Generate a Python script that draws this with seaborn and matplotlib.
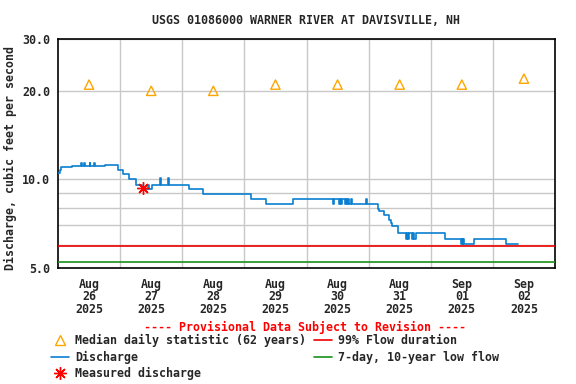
import matplotlib
matplotlib.use("Agg")
import matplotlib.pyplot as plt
import seaborn as sns
import pandas as pd
from matplotlib.lines import Line2D
from matplotlib.ticker import FixedLocator, NullFormatter, FixedFormatter

# ---------------- data ----------------
title = "USGS 01086000 WARNER RIVER AT DAVISVILLE, NH"
day_labels = ["Aug\n26\n2025", "Aug\n27\n2025", "Aug\n28\n2025", "Aug\n29\n2025",
              "Aug\n30\n2025", "Aug\n31\n2025", "Sep\n01\n2025", "Sep\n02\n2025"]
day_noon_hours = [12, 36, 60, 84, 108, 132, 156, 180]
day_start_hours = [24, 48, 72, 96, 120, 144, 168]

median_hours = [12, 36, 60, 84, 108, 132, 156, 180]
median_values = [21, 20, 20, 21, 21, 21, 21, 22]

# discharge breakpoints (hours since Aug 26 00:00), held as steps
q_hours = [0.0, 0.7, 1.3, 5.3, 9.0, 9.25, 10.0, 10.25, 12.25, 12.5, 14.0, 14.25,
           18.0, 23.2, 25.2, 27.4, 30.2, 32.3, 34.8, 35.05, 36.5, 39.5, 39.75,
           42.5, 42.75, 50.6, 56.1, 74.5, 80.3, 90.9, 106.4, 106.65, 108.6,
           108.85, 109.5, 109.75, 110.9, 111.4, 111.8, 112.05, 112.6, 113.1,
           113.5, 119.0, 119.25, 123.6, 124.2, 125.8, 127.8, 128.6, 129.1,
           131.4, 134.6, 135.0, 135.25, 135.6, 136.8, 137.25, 137.5, 138.3,
           149.4, 155.7, 156.0, 156.3, 156.5, 156.9, 160.6, 173.1, 177.8]
q_values = [10.5, 10.8, 11.0, 11.1, 11.4, 11.1, 11.4, 11.1, 11.4, 11.1, 11.4, 11.1,
            11.2, 10.8, 10.4, 10.0, 9.6, 9.3, 9.6, 9.3, 9.6, 10.1, 9.6,
            10.1, 9.6, 9.3, 8.9, 8.55, 8.24, 8.55, 8.24, 8.55, 8.24,
            8.55, 8.24, 8.55, 8.24, 8.55, 8.24, 8.55, 8.24, 8.55,
            8.24, 8.55, 8.24, 7.96, 7.81, 7.56, 7.26, 7.11, 6.95,
            6.59, 6.29, 6.59, 6.29, 6.59, 6.29, 6.59, 6.29, 6.59,
            6.29, 6.01, 6.29, 6.01, 6.29, 6.01, 6.29, 6.01, 6.01]

measured_hours = [32.9]
measured_values = [9.32]

flow99 = 5.95
low_flow_7q10 = 5.26

y_ticks = [5, 10, 20, 30]
y_tick_labels = ["5.0", "10.0", "20.0", "30.0"]
y_minor = [6, 7, 8, 9]

# ---------------- style ----------------
sns.set_style("white")
plt.rcParams['font.family'] = ['DejaVu Sans Mono']
plt.rcParams['font.weight'] = 'bold'
FS = 8.4
BLUE = '#0a7fd0'
ORANGE = '#ffa500'
GRID = '#c8c8c8'

fig = plt.figure(figsize=(5.76, 3.84), dpi=100)
ax = fig.add_axes([58 / 576, 1 - 268 / 384, 497 / 576, 229 / 384])

df = pd.DataFrame({"hour": q_hours, "cfs": q_values})
sns.lineplot(data=df, x="hour", y="cfs", ax=ax, color=BLUE, lw=1.2,
             drawstyle="steps-post", estimator=None, sort=False, zorder=4)

mdf = pd.DataFrame({"hour": median_hours, "cfs": median_values})
sns.scatterplot(data=mdf, x="hour", y="cfs", ax=ax, marker='^', s=45,
                color=ORANGE, zorder=5)
coll = ax.collections[-1]
coll.set_facecolor('none')
coll.set_edgecolor(ORANGE)
coll.set_linewidth(1.0)

ax.plot(measured_hours, measured_values, ls='none', marker=(8, 2, 0), ms=9,
        color='red', mew=1.0, zorder=6)

ax.axhline(flow99, color='#ee0000', lw=1.2, zorder=3)
ax.axhline(low_flow_7q10, color='#1a8f1a', lw=1.2, zorder=3)

ax.set_yscale('log')
ax.set_ylim(5, 30)
ax.set_xlim(0, 192)
ax.yaxis.set_major_locator(FixedLocator(y_ticks))
ax.yaxis.set_major_formatter(FixedFormatter(y_tick_labels))
ax.yaxis.set_minor_locator(FixedLocator(y_minor))
ax.yaxis.set_minor_formatter(NullFormatter())
ax.xaxis.set_major_locator(FixedLocator(day_noon_hours))
ax.xaxis.set_major_formatter(FixedFormatter(day_labels))
ax.xaxis.set_minor_locator(FixedLocator(day_start_hours))
ax.xaxis.set_minor_formatter(NullFormatter())
ax.set_axisbelow(True)
ax.grid(False)
ax.grid(which='both', axis='y', color=GRID, lw=1.0)
ax.grid(which='minor', axis='x', color=GRID, lw=1.0)
ax.tick_params(which='both', length=0)
ax.tick_params(axis='y', pad=5.5, labelsize=FS)
ax.tick_params(axis='x', pad=7, labelsize=FS)
for lab in ax.get_xticklabels():
    lab.set_linespacing(0.95)
    lab.set_fontweight('bold')
for lab in ax.get_yticklabels():
    lab.set_fontweight('bold')
for s in ax.spines.values():
    s.set_color('black')
    s.set_linewidth(1.2)

ax.set_xlabel("")
ax.set_ylabel("Discharge, cubic feet per second", fontsize=FS, fontweight='bold')
ax.yaxis.set_label_coords(-0.082, 0.48)

fig.text(306.5 / 576, 1 - 20 / 384, title, ha='center', va='center',
         fontsize=FS, fontweight='bold')
fig.text(305.5 / 576, 1 - 327 / 384, "---- Provisional Data Subject to Revision ----",
         ha='center', va='center', fontsize=FS, fontweight='bold', color='red')

handles = [
    Line2D([], [], ls='none', marker='^', ms=7, mfc='none', mec=ORANGE, mew=1.0),
    Line2D([], [], color=BLUE, lw=1.2),
    Line2D([], [], ls='none', marker=(8, 2, 0), ms=9, color='red', mew=1.0),
    Line2D([], [], color='#ee0000', lw=1.2),
    Line2D([], [], color='#1a8f1a', lw=1.2),
]
labels = ["Median daily statistic (62 years)", "Discharge", "Measured discharge",
          "99% Flow duration", "7-day, 10-year low flow"]
fig.legend(handles, labels, ncol=2, loc='upper left',
           bbox_to_anchor=(51 / 576, 1 - 334 / 384), frameon=False,
           prop={'size': FS, 'weight': 'bold'}, handlelength=1.55,
           handletextpad=0.5, columnspacing=0.7, borderpad=0,
           borderaxespad=0, labelspacing=0.3)

fig.savefig("out.png", dpi=100)
